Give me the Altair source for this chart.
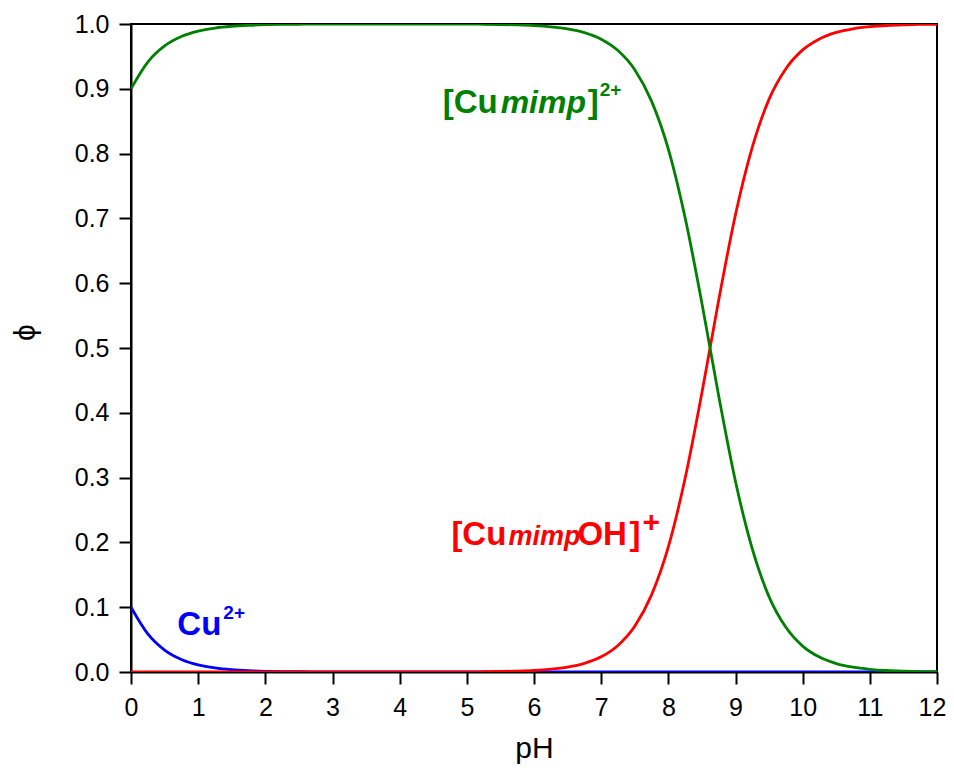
import altair as alt
import pandas as pd

# pH grid and species fractions
ph = [0.0, 0.25, 0.5, 0.75, 1.0, 1.25, 1.5, 1.75, 2.0, 2.25, 2.5, 2.75, 3.0,
      3.25, 3.5, 3.75, 4.0, 4.25, 4.5, 4.75, 5.0, 5.25, 5.5, 5.75, 6.0,
      6.25, 6.5, 6.75, 7.0, 7.25, 7.5, 7.75, 8.0, 8.25, 8.5, 8.75, 9.0,
      9.25, 9.5, 9.75, 10.0, 10.25, 10.5, 10.75, 11.0, 11.25, 11.5, 11.75, 12.0]

cu = [0.1, 0.0588, 0.0339, 0.0194, 0.011, 0.0062, 0.0035, 0.002, 0.0011,
      0.0006, 0.00035, 0.0002, 0.0001, 0.0, 0.0, 0.0, 0.0, 0.0, 0.0, 0.0,
      0.0, 0.0, 0.0, 0.0, 0.0, 0.0, 0.0, 0.0, 0.0, 0.0, 0.0, 0.0, 0.0, 0.0,
      0.0, 0.0, 0.0, 0.0, 0.0, 0.0, 0.0, 0.0, 0.0, 0.0, 0.0, 0.0, 0.0, 0.0, 0.0]

cumimp = [0.9, 0.9412, 0.9661, 0.9806, 0.989, 0.9938, 0.9965, 0.998, 0.9989,
          0.9994, 0.9996, 0.9998, 0.9999, 1.0, 1.0, 1.0, 1.0, 1.0, 1.0, 1.0,
          0.9998, 0.9996, 0.9992, 0.9986, 0.9976, 0.9957, 0.9925, 0.9867,
          0.9766, 0.959, 0.9295, 0.881, 0.807, 0.701, 0.569, 0.426, 0.294,
          0.19, 0.116, 0.069, 0.04, 0.023, 0.013, 0.0074, 0.0042, 0.0023,
          0.0013, 0.0007, 0.0004]

cumimpoh = [0.0, 0.0, 0.0, 0.0, 0.0, 0.0, 0.0, 0.0, 0.0, 0.0, 0.0, 0.0, 0.0,
            0.0, 0.0, 0.0, 0.0, 0.0, 0.0, 0.0, 0.0002, 0.0004, 0.0008, 0.0014,
            0.0024, 0.0043, 0.0075, 0.0133, 0.0234, 0.041, 0.0705, 0.119,
            0.193, 0.299, 0.431, 0.574, 0.706, 0.81, 0.884, 0.931, 0.96,
            0.977, 0.987, 0.9926, 0.9958, 0.9977, 0.9987, 0.9993, 0.9996]

x_ticks = list(range(0, 13))
y_ticks = [0.0, 0.1, 0.2, 0.3, 0.4, 0.5, 0.6, 0.7, 0.8, 0.9, 1.0]

# annotation anchors (data coordinates: pH, phi at text baseline)
label_ph = [4.64, 4.77, 0.69]
label_phi = [0.8627, 0.196, 0.0571]

FONT = "Liberation Sans"
GREEN = "#008000"
RED = "#ff0000"
BLUE = "#0000ff"

xscale = alt.Scale(domain=[0, 12], nice=False, zero=False)
yscale = alt.Scale(domain=[0, 1], nice=False, zero=False)

xaxis = alt.Axis(values=x_ticks, format="d", title="pH", grid=False,
                 tickSize=12, tickWidth=2, tickColor="black",
                 domainColor="black", domainWidth=2, labelFlush=False,
                 labelOffset={"condition": {"test": "datum.value == 12", "value": -5},
                              "value": 0},
                 labelFont=FONT, labelFontSize=25, labelColor="black",
                 labelPadding=11, titleFont=FONT, titleFontSize=30,
                 titleFontWeight="normal", titleColor="black",
                 titleBaseline="alphabetic", titleY=85)
yaxis = alt.Axis(values=y_ticks, format=".1f", title="ϕ", grid=False,
                 tickSize=12, tickWidth=2, tickColor="black",
                 domainColor="black", domainWidth=2, labelFlush=False,
                 labelFont=FONT, labelFontSize=25, labelColor="black",
                 labelPadding=10, titleFont=FONT, titleFontSize=30,
                 titleFontWeight="normal", titleColor="black",
                 titleX=-106, titleY=308, titleAlign="center",
                 titleBaseline="middle", titleAngle=-90)

df = pd.DataFrame({"pH": ph, "cu": cu, "cumimp": cumimp, "cumimpoh": cumimpoh})


def curve(col, color):
    return alt.Chart(df).mark_line(color=color, strokeWidth=2.8,
                                   interpolate="monotone", clip=True).encode(
        x=alt.X("pH:Q", scale=xscale, axis=xaxis),
        y=alt.Y(f"{col}:Q", scale=yscale, axis=yaxis),
    )


lines = [curve("cu", BLUE), curve("cumimpoh", RED), curve("cumimp", GREEN)]


def piece(i, text, dx, dy, size, color, italic=False):
    d = pd.DataFrame({"pH": [label_ph[i]], "phi": [label_phi[i]], "t": [text]})
    kw = dict(align="left", baseline="alphabetic", font=FONT, fontSize=size,
              fontWeight="bold", color=color, dx=dx, dy=dy)
    if italic:
        kw["fontStyle"] = "italic"
    return alt.Chart(d).mark_text(**kw).encode(
        x=alt.X("pH:Q", scale=xscale, axis=xaxis),
        y=alt.Y("phi:Q", scale=yscale, axis=yaxis),
        text="t:N",
    )


texts = [
    piece(0, "[Cu", 0, 0, 33, GREEN),
    piece(0, "mimp", 58, 0, 32, GREEN, True),
    piece(0, "]", 145, 0, 33, GREEN),
    piece(0, "2+", 157, -17, 19, GREEN),
    piece(1, "[Cu", 0, 0, 33, RED),
    piece(1, "mimp", 57, 0, 27, RED, True),
    piece(1, "OH", 126, 0, 33, RED),
    piece(1, "]", 178, 0, 33, RED),
    piece(1, "+", 191, -13, 30, RED),
    piece(2, "Cu", 0, 0, 33, BLUE),
    piece(2, "2+", 46, -16, 19, BLUE),
]

chart = alt.layer(*lines, *texts).properties(
    width=806, height=648,
    autosize=alt.AutoSizeParams(type="none"),
    padding={"left": 123, "top": 16, "right": 9, "bottom": 92},
).configure(background="white").configure_view(stroke="black", strokeWidth=2)

chart.save("out.html", embed_options={"renderer": "svg", "actions": False})
